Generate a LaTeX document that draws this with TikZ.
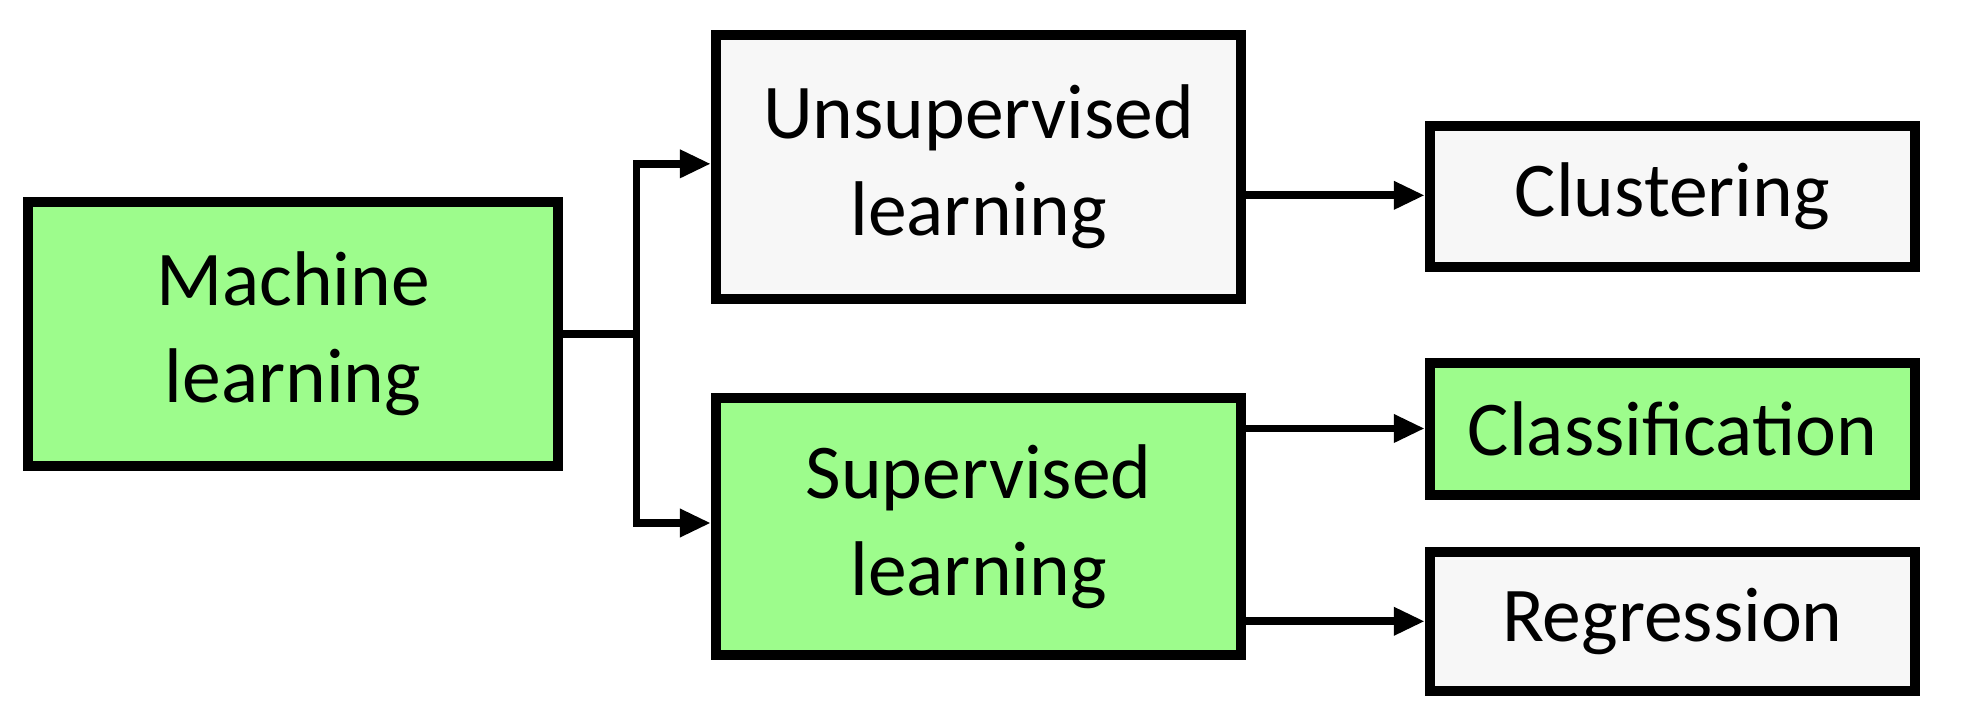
\documentclass[tikz,border=0pt]{standalone}
\usepackage{fontspec}
\setmainfont{Carlito}
\usetikzlibrary{arrows.meta}
\definecolor{gr}{HTML}{9DFC8C}
\definecolor{lg}{HTML}{F7F7F7}
\begin{document}
\begin{tikzpicture}[x=0.02cm,y=-0.02cm,
 box/.style={draw,line width=4.5pt,align=center,font=\fontsize{35}{44}\selectfont,inner sep=0pt},
 ar/.style={line width=3.5pt,-{Triangle[length=14pt,width=12pt]}}]
\useasboundingbox (0,0) rectangle (1560,567);
\node[box,fill=gr,minimum width=8.42cm,minimum height=4.2cm] (ml) at (232.5,265) {Machine\\learning};
\node[box,fill=lg,minimum width=8.34cm,minimum height=4.18cm] (un) at (776.5,132.5) {Unsupervised\\learning};
\node[box,fill=gr,minimum width=8.34cm,minimum height=4.08cm] (su) at (776.5,418) {Supervised\\learning};
\node[box,fill=lg,minimum width=7.7cm,minimum height=2.24cm] (cl) at (1327,156) {Clustering};
\node[box,fill=gr,minimum width=7.7cm,minimum height=2.1cm] (ca) at (1327,340.5) {Classification};
\node[box,fill=lg,minimum width=7.7cm,minimum height=2.2cm] (re) at (1327,493) {Regression};
\coordinate (j) at (505,265);
\draw[line width=3.5pt] (ml.east) -- (j);
\draw[ar] (j) |- (un.west|-0,130);
\draw[ar] (j) |- (su.west|-0,415);
\draw[ar] (un.east|-0,155) -- (cl.west|-0,155);
\draw[ar] (su.east|-0,340) -- (ca.west|-0,340);
\draw[ar] (su.east|-0,493) -- (re.west|-0,493);
\end{tikzpicture}
\end{document}
